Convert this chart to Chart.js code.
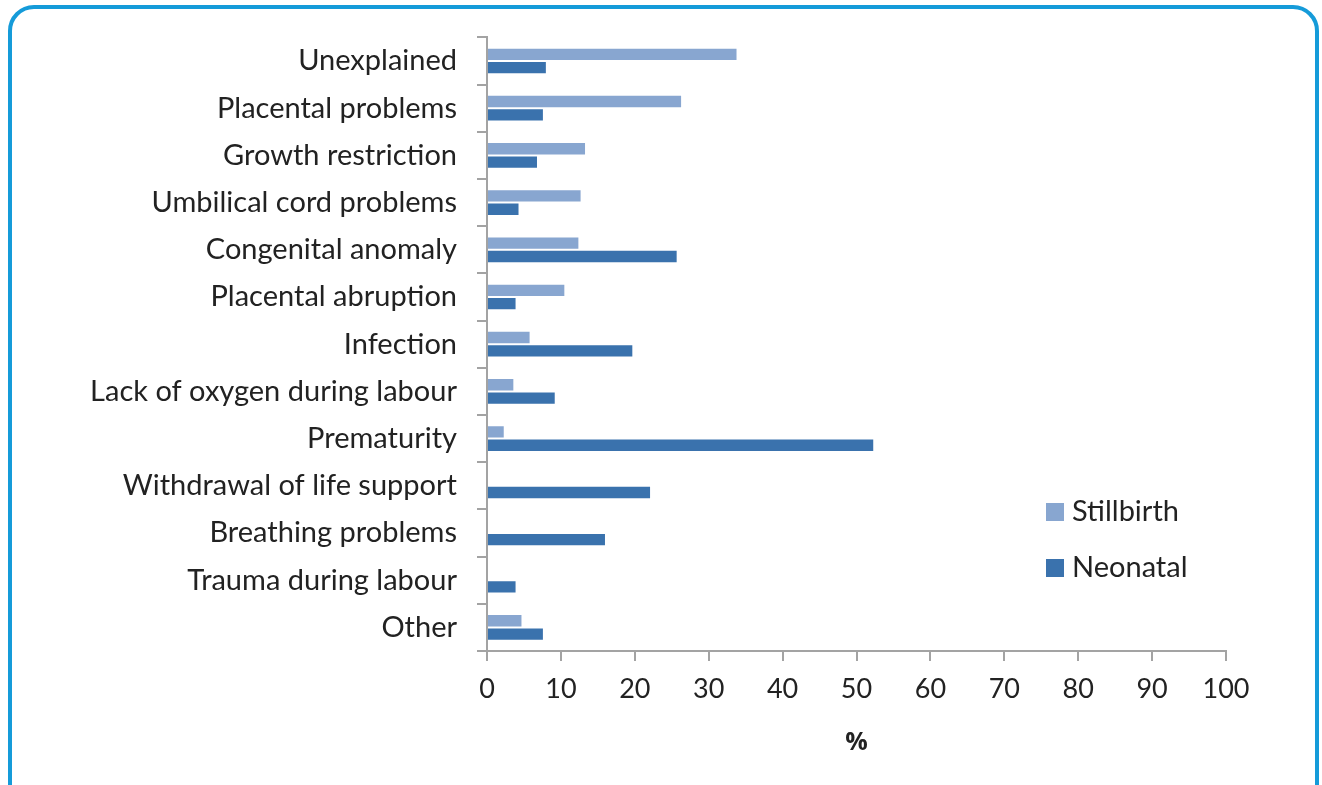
<!DOCTYPE html>
<html lang="en">
<head>
    <meta charset="UTF-8">
    <title>Causes of death</title>
    <script src="https://cdn.jsdelivr.net/npm/chart.js"></script>
    <style>
        html, body { margin: 0; padding: 0; background: #fff; overflow: hidden; }
        #frame {
            position: absolute; left: 8px; top: 5px; width: 1303px; height: 800px;
            border: 4px solid #159bd9; border-radius: 26px;
        }
        #wrap { position: absolute; left: 0; top: 0; width: 1322px; height: 785px; }
    </style>
</head>
<body>
    <div id="frame"></div>
    <div id="wrap"><canvas id="causesChart" width="1322" height="785"></canvas></div>
    <script>
        // chart data
        var categories = ['Unexplained', 'Placental problems', 'Growth restriction', 'Umbilical cord problems',
            'Congenital anomaly', 'Placental abruption', 'Infection', 'Lack of oxygen during labour',
            'Prematurity', 'Withdrawal of life support', 'Breathing problems', 'Trauma during labour', 'Other'];
        var stillbirth = [33.9, 26.4, 13.4, 12.8, 12.5, 10.6, 5.9, 3.7, 2.4, 0, 0, 0, 4.8];
        var neonatal = [8.1, 7.7, 6.9, 4.4, 25.8, 4.0, 19.8, 9.3, 52.4, 22.2, 16.1, 4.0, 7.7];
        var seriesNames = ['Stillbirth', 'Neonatal'];
        var seriesColors = ['#88a6d0', '#3a72ad'];
        var xTicks = [0, 10, 20, 30, 40, 50, 60, 70, 80, 90, 100];

        var FONT = 'Lato';
        var TEXT = '#222222';
        var AXIS = '#a3a3a3';

        // legend drawn inside the plot area, like the original
        var insideLegend = {
            id: 'insideLegend',
            afterDraw: function(chart) {
                var ctx = chart.ctx;
                ctx.save();
                ctx.font = '29px ' + FONT;
                ctx.textBaseline = 'middle';
                ctx.textAlign = 'left';
                chart.data.datasets.forEach(function(ds, i) {
                    var y = 512 + i * 56;
                    ctx.fillStyle = ds.backgroundColor;
                    ctx.fillRect(1046, y - 9, 18, 18);
                    ctx.fillStyle = TEXT;
                    ctx.fillText(ds.label, 1072, y);
                });
                ctx.restore();
            }
        };

        var ctx = document.getElementById('causesChart').getContext('2d');
        var causesChart = new Chart(ctx, {
            type: 'bar',
            data: {
                labels: categories,
                datasets: [{
                    label: seriesNames[0],
                    data: stillbirth,
                    backgroundColor: seriesColors[0],
                    borderColor: 'rgba(255,255,255,0.45)',
                    borderWidth: 1,
                    categoryPercentage: 0.565,
                    barPercentage: 1
                }, {
                    label: seriesNames[1],
                    data: neonatal,
                    backgroundColor: seriesColors[1],
                    borderColor: 'rgba(255,255,255,0.45)',
                    borderWidth: 1,
                    categoryPercentage: 0.565,
                    barPercentage: 1
                }]
            },
            options: {
                indexAxis: 'y',
                responsive: false,
                animation: false,
                layout: { padding: { top: 37, right: 96, left: 0, bottom: 0 } },
                plugins: {
                    legend: { display: false },
                    tooltip: { enabled: false }
                },
                scales: {
                    x: {
                        min: 0,
                        max: 100,
                        afterBuildTicks: function(scale) {
                            scale.ticks = xTicks.map(function(v) { return { value: v }; });
                        },
                        afterFit: function(scale) { scale.height = 134; },
                        grid: { drawOnChartArea: false, drawTicks: true, tickLength: 10, color: AXIS, lineWidth: 2 },
                        border: { color: AXIS, width: 2 },
                        ticks: { color: TEXT, font: { family: FONT, size: 27 }, padding: 12, maxRotation: 0 },
                        title: { display: true, text: '%', color: TEXT, font: { family: '"Open Sans"', size: 25, weight: 'bold' }, padding: { top: 0, bottom: 27 } }
                    },
                    y: {
                        afterFit: function(scale) { scale.width = 487; },
                        grid: { drawOnChartArea: false, drawTicks: true, tickLength: 10, color: AXIS, lineWidth: 2 },
                        border: { color: AXIS, width: 2 },
                        ticks: { color: TEXT, font: { family: FONT, size: 29 }, padding: 20, autoSkip: false }
                    }
                }
            },
            plugins: [insideLegend]
        });
    </script>
</body>
</html>
